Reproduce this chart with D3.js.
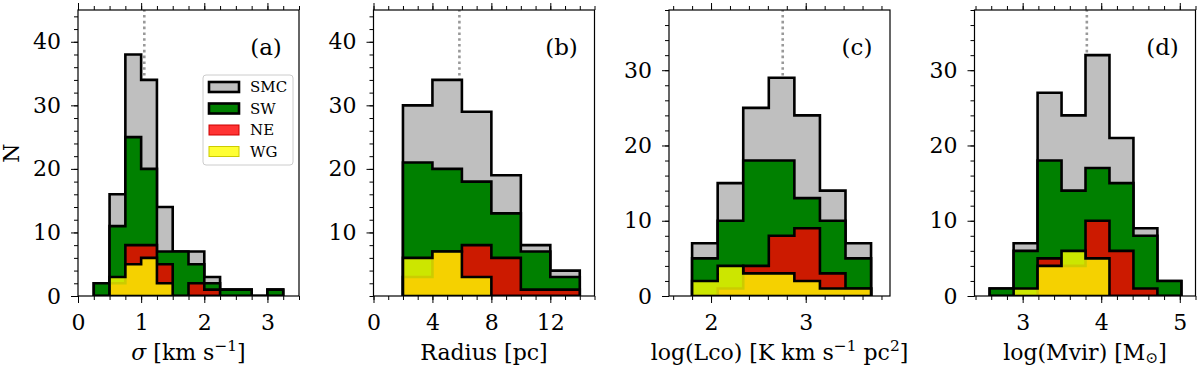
<!DOCTYPE html>
<html><head><meta charset="utf-8">
<script src="https://cdn.jsdelivr.net/npm/d3@7"></script>
<style>
body{margin:0;background:#fff;}
svg text{font-family:"DejaVu Serif",serif;fill:#000;}
</style></head>
<body><svg id="c" width="1200" height="370"></svg>
<script>
// ---------- data ----------
const sigmaEdges = [0.25,0.5,0.75,1.0,1.25,1.5,1.75,2.0,2.25,2.5,2.75,3.0,3.25];
const sigmaSMC = [2,16,38,34,14,7,7,3,1,1,0,1];
const sigmaSW  = [2,11,25,20,7,7,5,2,1,1,0,1];
const sigmaNE  = [0,2,8,8,5,0,2,1,0,0,0,0];
const sigmaWG  = [0,3,5,6,2,0,0,0,0,0,0,0];
const sigmaMedian = 1.05;

const radiusEdges = [2,4,6,8,10,12,14];
const radiusSMC = [30,34,29,19,8,4];
const radiusSW  = [21,20,18,13,7,3];
const radiusNE  = [3,7,8,6,1,1];
const radiusWG  = [6,7,3,0,0,0];
const radiusMedian = 5.83;

const lcoEdges = [1.8,2.07,2.34,2.61,2.88,3.15,3.42,3.69];
const lcoSMC = [7,15,25,29,24,14,7];
const lcoSW  = [5,10,18,18,13,10,5];
const lcoNE  = [0,1,4,8,9,3,1];
const lcoWG  = [2,4,3,3,2,1,1];
const lcoMedian = 2.757;

const mvirEdges = [2.58,2.885,3.19,3.495,3.8,4.105,4.41,4.715,5.02];
const mvirSMC = [1,7,27,24,32,21,9,2];
const mvirSW  = [1,6,18,14,17,15,8,2];
const mvirNE  = [0,0,5,4,10,6,1,0];
const mvirWG  = [0,1,4,6,5,0,0,0];
const mvirMedian = 3.817;

const sigmaTicks = [0,1,2,3];
const radiusTicks = [0,4,8,12];
const lcoTicks = [2,3];
const mvirTicks = [3,4,5];
const yTicksAB = [0,10,20,30,40];
const yTicksB = [10,20,30,40];
const yTicksCD = [0,10,20,30];
const panelLetters = ["(a)","(b)","(c)","(d)"];
const legendNames = ["SMC","SW","NE","WG"];

// ---------- layout ----------
const svg = d3.select("#c");
const TOP = 10, BOT = 296;
const FS = 22;
const panels = [
  {left:78, right:299, xd:[0,3.5], yd:[0,45], edges:sigmaEdges, smc:sigmaSMC, sw:sigmaSW, ne:sigmaNE, wg:sigmaWG, med:sigmaMedian,
   xt:sigmaTicks, xminor:0.25, yt:yTicksAB, lab:panelLetters[0], legend:true},
  {left:373.5, right:594.5, xd:[0,15], yd:[0,45], edges:radiusEdges, smc:radiusSMC, sw:radiusSW, ne:radiusNE, wg:radiusWG, med:radiusMedian,
   xt:radiusTicks, xminor:1, yt:yTicksB, lab:panelLetters[1]},
  {left:669, right:890, xd:[1.556,3.89], yd:[0,38], edges:lcoEdges, smc:lcoSMC, sw:lcoSW, ne:lcoNE, wg:lcoWG, med:lcoMedian,
   xt:lcoTicks, xminor:0.2, yt:yTicksCD, lab:panelLetters[2]},
  {left:974.5, right:1195.5, xd:[2.387,5.2], yd:[0,38], edges:mvirEdges, smc:mvirSMC, sw:mvirSW, ne:mvirNE, wg:mvirWG, med:mvirMedian,
   xt:mvirTicks, xminor:0.2, yt:yTicksCD, lab:panelLetters[3]}
];

function minorVals(d, step){
  const out=[]; const s=Math.ceil(d[0]/step-1e-9);
  for(let k=s; k*step<=d[1]+1e-9; k++) out.push(+(k*step).toFixed(6));
  return out;
}

panels.forEach((p,i)=>{
  const g = svg.append("g");
  const x = d3.scaleLinear().domain(p.xd).range([p.left,p.right]);
  const y = d3.scaleLinear().domain(p.yd).range([BOT,TOP]);
  const cid = "clip"+i;
  svg.append("clipPath").attr("id",cid).append("rect")
    .attr("x",p.left).attr("y",TOP).attr("width",p.right-p.left).attr("height",BOT-TOP);
  const plot = g.append("g").attr("clip-path",`url(#${cid})`);

  // median dotted line (behind histograms)
  plot.append("line").attr("x1",x(p.med)).attr("x2",x(p.med)).attr("y1",y(0)).attr("y2",y(p.yd[1]))
    .attr("stroke","#999").attr("stroke-width",2.6).attr("stroke-dasharray","2.6,3.2");

  const line = d3.line().x(d=>x(d[0])).y(d=>y(d[1]));
  function pts(edges, vals){
    const a=[[edges[0],0]];
    vals.forEach((v,k)=>{a.push([edges[k],v]); a.push([edges[k+1],v]);});
    a.push([edges[edges.length-1],0]);
    return a;
  }
  const layers = [
    {vals:p.smc, fill:"#bfbfbf", op:1},
    {vals:p.sw, fill:"#008000", op:1},
    {vals:p.ne, fill:"#ff0000", op:0.8},
    {vals:p.wg, fill:"#ffff00", op:0.8}
  ];
  layers.forEach(L=>{
    plot.append("path").attr("d", line(pts(p.edges,L.vals))+"Z")
      .attr("fill",L.fill).attr("fill-opacity",L.op).attr("stroke","none");
    plot.append("path").attr("d", line(pts(p.edges,L.vals))+"Z")
      .attr("fill","none").attr("stroke","#000").attr("stroke-width",2.6).attr("stroke-linejoin","miter");
  });

  // axes
  const xmin = minorVals(p.xd, p.xminor);
  const ymin = minorVals(p.yd, 2);
  const ax = (gen, pos, vals, size, fmt, pad) => {
    const a = g.append("g").attr("transform",pos)
      .call(gen.tickValues(vals).tickSize(size).tickPadding(pad||3).tickFormat(fmt));
    a.select(".domain").remove();
    a.selectAll("line").attr("stroke","#000").attr("stroke-width",1);
    a.selectAll("text").attr("font-size",FS).attr("font-family","DejaVu Serif");
    return a;
  };
  ax(d3.axisBottom(x), `translate(0,${BOT})`, xmin, 4, ()=>"");
  ax(d3.axisBottom(x), `translate(0,${BOT})`, p.xt, 7, d3.format("d")).selectAll("text").attr("dy","0.71em").attr("y",18);
  ax(d3.axisTop(x), `translate(0,${TOP})`, xmin, 4, ()=>"");
  ax(d3.axisTop(x), `translate(0,${TOP})`, p.xt, 7, ()=>"");
  ax(d3.axisLeft(y), `translate(${p.left},0)`, ymin, 4, ()=>"");
  ax(d3.axisLeft(y), `translate(${p.left},0)`, p.yt, 7, d3.format("d"), 10);

  // frame
  g.append("rect").attr("x",p.left).attr("y",TOP).attr("width",p.right-p.left).attr("height",BOT-TOP)
    .attr("fill","none").attr("stroke","#000").attr("stroke-width",1.2);

  // panel letter
  g.append("text").attr("x",p.right-33).attr("y",55).attr("text-anchor","middle")
    .attr("font-size",FS+1).text(p.lab);

  if(p.legend){
    const lg = g.append("g");
    lg.append("rect").attr("x",203).attr("y",75).attr("width",90).attr("height",90).attr("rx",3)
      .attr("fill","#fff").attr("fill-opacity",0.8).attr("stroke","#ccc").attr("stroke-width",1);
    const sty = [
      {fill:"#bfbfbf", stroke:"#000", sw:2.6},
      {fill:"#008000", stroke:"#000", sw:2.6},
      {fill:"#ff3333", stroke:"#cc0000", sw:1},
      {fill:"#ffff33", stroke:"#cccc00", sw:1}
    ];
    legendNames.forEach((n,k)=>{
      const cy = 87 + k*21.5;
      lg.append("rect").attr("x",209).attr("y",cy-5).attr("width",30).attr("height",10)
        .attr("fill",sty[k].fill).attr("stroke",sty[k].stroke).attr("stroke-width",sty[k].sw);
      lg.append("text").attr("x",250).attr("y",cy).attr("dy","0.35em").attr("font-size",15).text(n);
    });
  }
});

// axis labels
const xl = svg.append("g");
function label(cx, parts){
  const t = xl.append("text").attr("x",cx).attr("y",360).attr("text-anchor","middle").attr("font-size",FS);
  let shift = 0;
  parts.forEach(pt=>{
    const s = t.append("tspan").text(pt.t);
    let target = 0;
    if(pt.sup){ s.attr("font-size",FS*0.7); target = -FS*0.42; }
    if(pt.sub){ s.attr("font-size",FS*0.7); target = FS*0.12; }
    if(pt.it){ s.attr("font-style","italic"); }
    if(target!==shift){ s.attr("dy", target-shift); shift = target; }
  });
}
label((78+299)/2, [{t:"σ",it:true},{t:" [km s"},{t:"−1",sup:true},{t:"]"}]);
label((373.5+594.5)/2, [{t:"Radius [pc]"}]);
label((669+890)/2, [{t:"log(Lco) [K km s"},{t:"−1",sup:true},{t:" pc"},{t:"2",sup:true},{t:"]"}]);
label((974.5+1195.5)/2, [{t:"log(Mvir) [M"},{t:"⊙",sub:true},{t:"]"}]);

svg.append("text").attr("transform","translate(19,153) rotate(-90)").attr("text-anchor","middle")
  .attr("font-size",FS).text("N");
</script></body></html>
